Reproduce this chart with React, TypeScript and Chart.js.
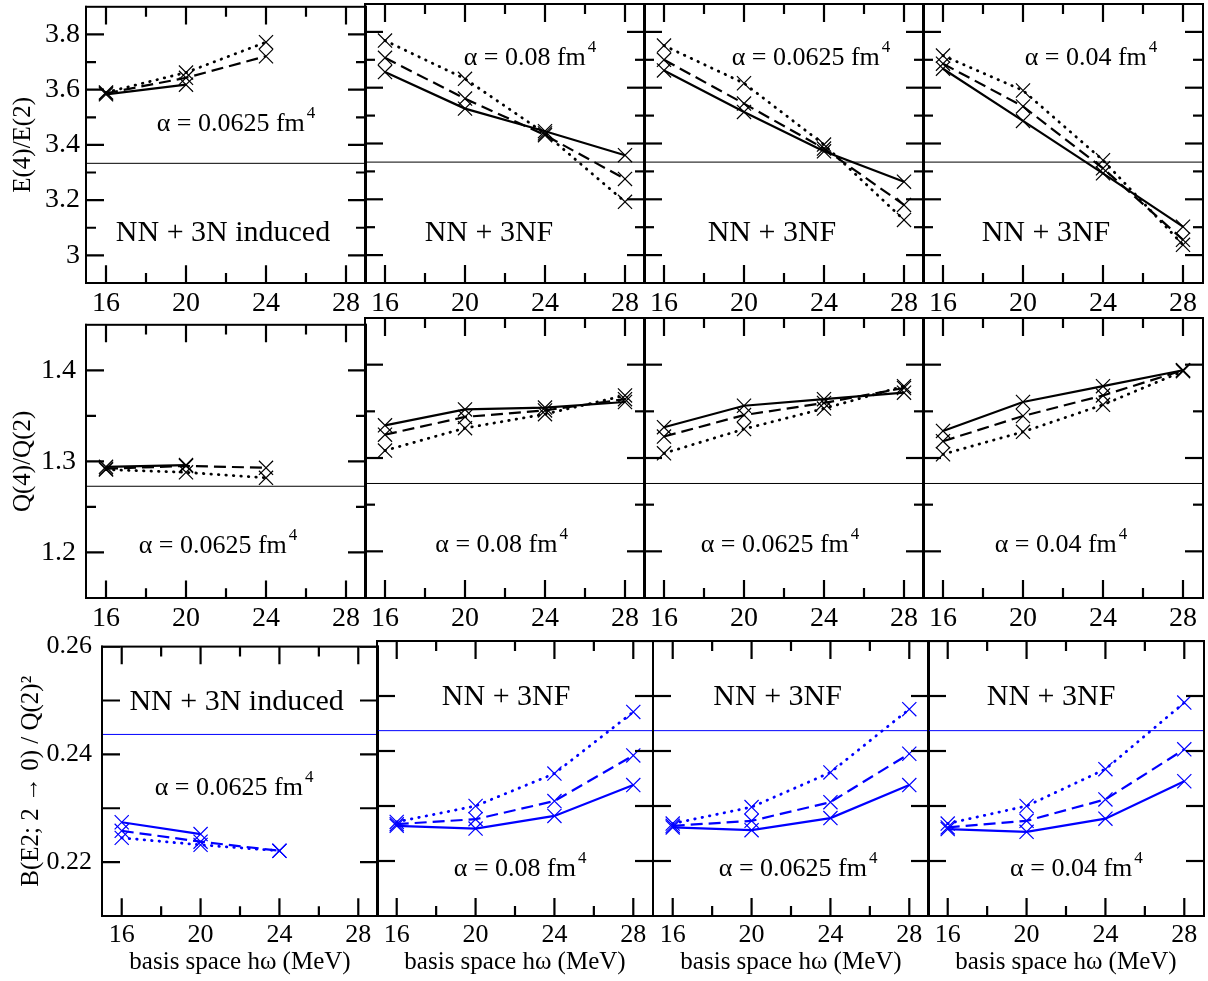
import React, { useEffect, useRef } from 'react';
import { Chart, registerables } from 'chart.js';

Chart.register(...registerables);

const FONT = "'Liberation Serif', 'Times New Roman', Times, serif";

// basis space hw (MeV)
const HW = [16, 20, 24, 28];
const X_MIN = 15;
const X_MAX = 29;
const X_MAJOR = [16, 20, 24, 28];
const X_MINOR = [18, 22, 26];
const X_TICK_LABELS = ['16', '20', '24', '28'];

// ---------- Row 1: E(4)/E(2) ----------
const E42_INDUCED_SOLID = [3.583, 3.618];
const E42_INDUCED_DASHED = [3.587, 3.643, 3.721];
const E42_INDUCED_DOTTED = [3.59, 3.662, 3.772];
const E42_A008_SOLID = [3.656, 3.525, 3.444, 3.358];
const E42_A008_DASHED = [3.707, 3.561, 3.43, 3.273];
const E42_A008_DOTTED = [3.769, 3.632, 3.436, 3.191];
const E42_A0625_SOLID = [3.662, 3.513, 3.372, 3.263];
const E42_A0625_DASHED = [3.7, 3.543, 3.382, 3.18];
const E42_A0625_DOTTED = [3.751, 3.616, 3.396, 3.126];
const E42_A004_SOLID = [3.668, 3.481, 3.293, 3.102];
const E42_A004_DASHED = [3.686, 3.533, 3.311, 3.055];
const E42_A004_DOTTED = [3.715, 3.59, 3.34, 3.037];
const E42_ROTOR = 3.3333;
const E42_Y_MAJOR = [3.0, 3.2, 3.4, 3.6, 3.8];
const E42_Y_MINOR = [3.1, 3.3, 3.5, 3.7];
const E42_Y_LABELS = ['3', '3.2', '3.4', '3.6', '3.8'];

// ---------- Row 2: Q(4)/Q(2) ----------
const Q42_INDUCED_SOLID = [1.294, 1.296];
const Q42_INDUCED_DASHED = [1.292, 1.295, 1.293];
const Q42_INDUCED_DOTTED = [1.291, 1.288, 1.282];
const Q42_A008_SOLID = [1.335, 1.352, 1.354, 1.36];
const Q42_A008_DASHED = [1.325, 1.344, 1.351, 1.363];
const Q42_A008_DOTTED = [1.308, 1.332, 1.347, 1.367];
const Q42_A0625_SOLID = [1.333, 1.356, 1.363, 1.37];
const Q42_A0625_DASHED = [1.323, 1.346, 1.359, 1.375];
const Q42_A0625_DOTTED = [1.305, 1.331, 1.353, 1.377];
const Q42_A004_SOLID = [1.329, 1.36, 1.377, 1.394];
const Q42_A004_DASHED = [1.318, 1.345, 1.367, 1.394];
const Q42_A004_DOTTED = [1.304, 1.328, 1.357, 1.393];
const Q42_ROTOR = 1.2727;
const Q42_Y_MAJOR = [1.2, 1.3, 1.4];
const Q42_Y_MINOR = [1.25, 1.35];
const Q42_Y_LABELS = ['1.2', '1.3', '1.4'];

// ---------- Row 3: B(E2; 2->0)/Q(2)^2 ----------
const BE2_INDUCED_SOLID = [0.2274, 0.2252];
const BE2_INDUCED_DASHED = [0.2258, 0.2238, 0.2221];
const BE2_INDUCED_DOTTED = [0.2245, 0.2232, 0.2221];
const BE2_A008_SOLID = [0.2264, 0.2259, 0.2282, 0.2338];
const BE2_A008_DASHED = [0.2267, 0.2276, 0.2309, 0.2392];
const BE2_A008_DOTTED = [0.2271, 0.23, 0.2359, 0.2471];
const BE2_A0625_SOLID = [0.2261, 0.2256, 0.2278, 0.2338];
const BE2_A0625_DASHED = [0.2264, 0.2273, 0.2307, 0.2395];
const BE2_A0625_DOTTED = [0.2268, 0.2298, 0.2361, 0.2476];
const BE2_A004_SOLID = [0.2258, 0.2253, 0.2277, 0.2345];
const BE2_A004_DASHED = [0.2261, 0.2273, 0.2312, 0.2403];
const BE2_A004_DOTTED = [0.2268, 0.23, 0.2367, 0.2488];
const BE2_ROTOR = 0.2437;
const BE2_Y_MAJOR = [0.22, 0.24, 0.26];
const BE2_Y_MINOR = [0.23, 0.25];
const BE2_Y_LABELS = ['0.22', '0.24', '0.26'];

const PANEL_TITLES = ['NN + 3N induced', 'NN + 3NF', 'NN + 3NF', 'NN + 3NF'];
const ALPHA_TEXTS = ['α = 0.0625 fm', 'α = 0.08 fm', 'α = 0.0625 fm', 'α = 0.04 fm'];

// solid, dashed, dotted
const DASHES = [[], [12, 6], [0.5, 7]];
const CAPS = ['butt', 'butt', 'round'];
const WIDTHS = [2.2, 2.2, 2.8];

type Note = { x: number; y: number; text: string; sup?: string; size: number };

// annotation anchors (data coordinates: centre x, baseline y)
const ROW1_NOTES: Note[][] = [
  [{ x: 22.5, y: 3.45, text: ALPHA_TEXTS[0], sup: '4', size: 26 }, { x: 21.85, y: 3.052, text: PANEL_TITLES[0], size: 30 }],
  [{ x: 23.25, y: 3.68, text: ALPHA_TEXTS[1], sup: '4', size: 26 }, { x: 21.2, y: 3.052, text: PANEL_TITLES[1], size: 30 }],
  [{ x: 23.35, y: 3.68, text: ALPHA_TEXTS[2], sup: '4', size: 26 }, { x: 21.4, y: 3.052, text: PANEL_TITLES[2], size: 30 }],
  [{ x: 23.4, y: 3.68, text: ALPHA_TEXTS[3], sup: '4', size: 26 }, { x: 21.15, y: 3.052, text: PANEL_TITLES[3], size: 30 }],
];
const ROW2_NOTES: Note[][] = [
  [{ x: 21.6, y: 1.199, text: ALPHA_TEXTS[0], sup: '4', size: 26 }],
  [{ x: 21.83, y: 1.199, text: ALPHA_TEXTS[1], sup: '4', size: 26 }],
  [{ x: 21.8, y: 1.199, text: ALPHA_TEXTS[2], sup: '4', size: 26 }],
  [{ x: 21.9, y: 1.199, text: ALPHA_TEXTS[3], sup: '4', size: 26 }],
];
const ROW3_NOTES: Note[][] = [
  [{ x: 21.83, y: 0.2483, text: PANEL_TITLES[0], size: 30 }, { x: 21.7, y: 0.2324, text: ALPHA_TEXTS[0], sup: '4', size: 26 }],
  [{ x: 21.55, y: 0.2483, text: PANEL_TITLES[1], size: 30 }, { x: 22.26, y: 0.2173, text: ALPHA_TEXTS[1], sup: '4', size: 26 }],
  [{ x: 21.32, y: 0.2483, text: PANEL_TITLES[2], size: 30 }, { x: 22.36, y: 0.2173, text: ALPHA_TEXTS[2], sup: '4', size: 26 }],
  [{ x: 21.24, y: 0.2483, text: PANEL_TITLES[3], size: 30 }, { x: 22.53, y: 0.2173, text: ALPHA_TEXTS[3], sup: '4', size: 26 }],
];

const MAJOR_LEN = 18;
const MINOR_LEN = 10;
const TICK_WIDTH = 2.2;

type PanelSpec = {
  key: string;
  left: number;
  top: number;
  w: number;
  h: number;
  padL: number;
  padB: number;
  yMin: number;
  yMax: number;
  yMajor: number[];
  yMinor: number[];
  yLabels: string[];
  yMinorLen: number;
  showY: boolean;
  yTitle?: string;
  yTitlePad?: number;
  xTitle?: string;
  tickFont: number;
  yTickPad: number;
  color: string;
  series: number[][];
  ref: number;
  notes: Note[];
};

// inward tick marks on all four sides, drawn as short line datasets
function tickDatasets(p: PanelSpec) {
  const ux = (X_MAX - X_MIN) / p.w; // data units per pixel
  const uy = (p.yMax - p.yMin) / p.h;
  const out: any[] = [];
  const mk = (pts: { x: number; y: number }[]) => ({
    data: pts,
    borderColor: '#000000',
    borderWidth: TICK_WIDTH,
    pointRadius: 0,
    fill: false,
    order: -1,
  });
  const xs: [number, number][] = [
    ...X_MAJOR.map((v) => [v, MAJOR_LEN] as [number, number]),
    ...X_MINOR.map((v) => [v, MINOR_LEN] as [number, number]),
  ];
  xs.forEach(([v, len]) => {
    out.push(mk([{ x: v, y: p.yMin }, { x: v, y: p.yMin + len * uy }]));
    out.push(mk([{ x: v, y: p.yMax }, { x: v, y: p.yMax - len * uy }]));
  });
  const ys: [number, number][] = [
    ...p.yMajor.map((v) => [v, MAJOR_LEN] as [number, number]),
    ...p.yMinor.map((v) => [v, p.yMinorLen] as [number, number]),
  ];
  ys.forEach(([v, len]) => {
    out.push(mk([{ x: X_MIN, y: v }, { x: X_MIN + len * ux, y: v }]));
    out.push(mk([{ x: X_MAX, y: v }, { x: X_MAX - len * ux, y: v }]));
  });
  return out;
}

function drawFrameAndNotes(chart: any, p: PanelSpec) {
  const ctx: CanvasRenderingContext2D = chart.ctx;
  const a = chart.chartArea;
  const xs = chart.scales.x;
  const ys = chart.scales.y;
  ctx.save();
  ctx.fillStyle = '#000000';
  ctx.fillRect(a.left - 1, a.top - 1, a.right - a.left + 2, 2);
  ctx.fillRect(a.left - 1, a.bottom - 1, a.right - a.left + 2, 2);
  ctx.fillRect(a.left - 1, a.top - 1, 2, a.bottom - a.top + 2);
  ctx.fillRect(a.right - 1, a.top - 1, 2, a.bottom - a.top + 2);

  ctx.textBaseline = 'alphabetic';
  ctx.textAlign = 'left';
  p.notes.forEach((n) => {
    const cx = xs.getPixelForValue(n.x);
    const cy = ys.getPixelForValue(n.y);
    const supSize = Math.round(n.size * 0.65);
    ctx.font = `${n.size}px ${FONT}`;
    const w1 = ctx.measureText(n.text).width;
    let w2 = 0;
    if (n.sup) {
      ctx.font = `${supSize}px ${FONT}`;
      w2 = ctx.measureText(n.sup).width + 2;
    }
    const x0 = cx - (w1 + w2) / 2;
    ctx.font = `${n.size}px ${FONT}`;
    ctx.fillText(n.text, x0, cy);
    if (n.sup) {
      ctx.font = `${supSize}px ${FONT}`;
      ctx.fillText(n.sup, x0 + w1 + 2, cy - n.size * 0.5);
    }
  });
  ctx.restore();
}

const PAD_T = 20;
const PAD_R = 3;

function PanelChart({ p }: { p: PanelSpec }) {
  const ref = useRef<HTMLCanvasElement>(null);
  const cw = p.w + p.padL + PAD_R;
  const ch = p.h + PAD_T + p.padB;
  useEffect(() => {
    const canvas = ref.current;
    if (!canvas) return;
    const datasets: any[] = [
      {
        data: [{ x: X_MIN, y: p.ref }, { x: X_MAX, y: p.ref }],
        borderColor: p.color,
        borderWidth: 1,
        pointRadius: 0,
        fill: false,
      },
    ];
    p.series.forEach((ysArr, si) => {
      datasets.push({
        data: ysArr.map((y, i) => ({ x: HW[i], y })),
        borderColor: p.color,
        borderWidth: WIDTHS[si],
        borderDash: DASHES[si],
        borderCapStyle: CAPS[si],
        pointStyle: 'crossRot',
        pointRadius: 10,
        pointBorderWidth: 1.2,
        pointBorderColor: p.color,
        pointBackgroundColor: 'rgba(0,0,0,0)',
        fill: false,
        tension: 0,
      });
    });
    tickDatasets(p).forEach((d) => datasets.push(d));
    const chart = new Chart(canvas, {
      type: 'line',
      data: { datasets },
      options: {
        responsive: false,
        maintainAspectRatio: false,
        animation: false,
        events: [],
        devicePixelRatio: 1,
        layout: { autoPadding: false, padding: { left: 0, top: PAD_T, right: PAD_R, bottom: 0 } },
        plugins: {
          legend: { display: false },
          tooltip: { enabled: false },
        },
        scales: {
          x: {
            type: 'linear',
            min: X_MIN,
            max: X_MAX,
            afterBuildTicks: (s: any) => {
              s.ticks = X_MAJOR.map((v) => ({ value: v }));
            },
            afterFit: (s: any) => {
              s.height = p.padB;
            },
            grid: { display: false, drawTicks: false },
            border: { display: false },
            ticks: {
              color: '#000',
              font: { family: FONT, size: p.tickFont },
              padding: 4,
              maxRotation: 0,
              autoSkip: false,
              callback: (_v: any, i: number) => X_TICK_LABELS[i],
            },
            title: {
              display: !!p.xTitle,
              text: p.xTitle || '',
              color: '#000',
              font: { family: FONT, size: 25 },
              padding: { top: 0, bottom: 4 },
            },
          },
          y: {
            type: 'linear',
            min: p.yMin,
            max: p.yMax,
            afterBuildTicks: (s: any) => {
              s.ticks = p.yMajor.map((v) => ({ value: v }));
            },
            afterFit: (s: any) => {
              s.width = p.padL;
            },
            grid: { display: false, drawTicks: false },
            border: { display: false },
            ticks: {
              display: p.showY,
              color: '#000',
              font: { family: FONT, size: p.tickFont },
              padding: p.yTickPad,
              autoSkip: false,
              callback: (_v: any, i: number) => p.yLabels[i],
            },
            title: {
              display: !!p.yTitle,
              text: p.yTitle || '',
              color: '#000',
              font: { family: FONT, size: 25 },
              padding: { top: p.yTitlePad || 0, bottom: 0 },
            },
          },
        },
      } as any,
      plugins: [
        {
          id: 'panelDeco',
          afterDraw: (c: any) => drawFrameAndNotes(c, p),
        } as any,
      ],
    });
    return () => chart.destroy();
  }, [p]);
  return (
    <canvas
      ref={ref}
      width={cw}
      height={ch}
      style={{ position: 'absolute', left: p.left - p.padL, top: p.top - PAD_T, width: cw, height: ch }}
    />
  );
}

const ROW12_LEFTS = [86, 365, 644, 923];
const ROW3_LEFTS = [102, 377, 653, 928];

const E42_SERIES = [
  [E42_INDUCED_SOLID, E42_INDUCED_DASHED, E42_INDUCED_DOTTED],
  [E42_A008_SOLID, E42_A008_DASHED, E42_A008_DOTTED],
  [E42_A0625_SOLID, E42_A0625_DASHED, E42_A0625_DOTTED],
  [E42_A004_SOLID, E42_A004_DASHED, E42_A004_DOTTED],
];
const Q42_SERIES = [
  [Q42_INDUCED_SOLID, Q42_INDUCED_DASHED, Q42_INDUCED_DOTTED],
  [Q42_A008_SOLID, Q42_A008_DASHED, Q42_A008_DOTTED],
  [Q42_A0625_SOLID, Q42_A0625_DASHED, Q42_A0625_DOTTED],
  [Q42_A004_SOLID, Q42_A004_DASHED, Q42_A004_DOTTED],
];
const BE2_SERIES = [
  [BE2_INDUCED_SOLID, BE2_INDUCED_DASHED, BE2_INDUCED_DOTTED],
  [BE2_A008_SOLID, BE2_A008_DASHED, BE2_A008_DOTTED],
  [BE2_A0625_SOLID, BE2_A0625_DASHED, BE2_A0625_DOTTED],
  [BE2_A004_SOLID, BE2_A004_DASHED, BE2_A004_DOTTED],
];

const PANELS: PanelSpec[] = [
  ...ROW12_LEFTS.map((left, i) => ({
    key: 'r1_' + i,
    left,
    top: 4,
    w: 280,
    h: 279,
    padL: i === 0 ? left : 2,
    padB: 40,
    yMin: 2.9,
    yMax: 3.9,
    yMajor: E42_Y_MAJOR,
    yMinor: E42_Y_MINOR,
    yLabels: E42_Y_LABELS,
    yMinorLen: MINOR_LEN,
    showY: i === 0,
    yTitle: i === 0 ? 'E(4)/E(2)' : undefined,
    yTitlePad: 8,
    tickFont: 28,
    yTickPad: 6,
    color: '#000000',
    series: E42_SERIES[i],
    ref: E42_ROTOR,
    notes: ROW1_NOTES[i],
  })),
  ...ROW12_LEFTS.map((left, i) => ({
    key: 'r2_' + i,
    left,
    top: 318,
    w: 280,
    h: 280,
    padL: i === 0 ? left : 2,
    padB: 40,
    yMin: 1.15,
    yMax: 1.45,
    yMajor: Q42_Y_MAJOR,
    yMinor: Q42_Y_MINOR,
    yLabels: Q42_Y_LABELS,
    yMinorLen: MINOR_LEN,
    showY: i === 0,
    yTitle: i === 0 ? 'Q(4)/Q(2)' : undefined,
    yTitlePad: 8,
    tickFont: 28,
    yTickPad: 10,
    color: '#000000',
    series: Q42_SERIES[i],
    ref: Q42_ROTOR,
    notes: ROW2_NOTES[i],
  })),
  ...ROW3_LEFTS.map((left, i) => ({
    key: 'r3_' + i,
    left,
    top: 641,
    w: 276,
    h: 275,
    padL: i === 0 ? left : 2,
    padB: 65,
    yMin: 0.21,
    yMax: 0.26,
    yMajor: BE2_Y_MAJOR,
    yMinor: BE2_Y_MINOR,
    yLabels: BE2_Y_LABELS,
    yMinorLen: MAJOR_LEN,
    showY: i === 0,
    yTitle: i === 0 ? 'B(E2; 2 → 0) / Q(2)²' : undefined,
    yTitlePad: 16,
    xTitle: 'basis space hω (MeV)',
    tickFont: 26,
    yTickPad: 10,
    color: '#0000ff',
    series: BE2_SERIES[i],
    ref: BE2_ROTOR,
    notes: ROW3_NOTES[i],
  })),
];

export default function App() {
  return (
    <div style={{ position: 'absolute', left: 0, top: 0, width: 1208, height: 981, background: '#fff', overflow: 'hidden' }}>
      {PANELS.map((p) => (
        <PanelChart key={p.key} p={p} />
      ))}
    </div>
  );
}
